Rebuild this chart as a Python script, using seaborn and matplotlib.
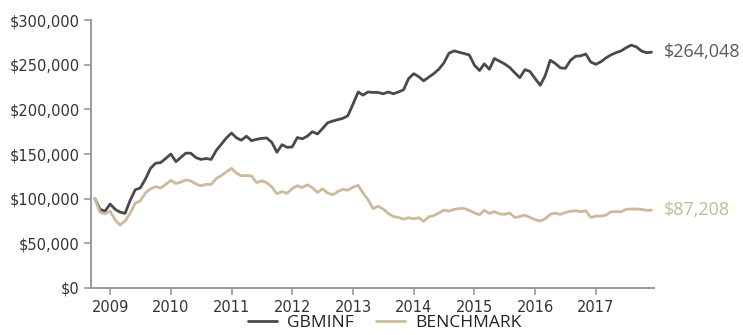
import matplotlib
matplotlib.use("Agg")
import matplotlib.pyplot as plt
import matplotlib.dates as mdates
import matplotlib.ticker as mticker
import numpy as np
import pandas as pd
import seaborn as sns

# Growth of an initial $100,000, monthly, Oct 2008 - Dec 2017
months = pd.date_range("2008-10-01", "2017-12-01", freq="MS")

gbminf = [
    100, 88, 86, 94, 88, 85, 83.6, 98, 110, 112,
    122, 134, 139.6, 140.5, 145, 150, 141.5, 146, 151, 151,
    146, 144, 145, 144, 154, 161, 168, 173.5, 168, 165.5,
    170, 165, 166.5, 167.5, 168, 163, 152, 160.5, 157.5, 158,
    168.5, 167, 170, 175, 172.5, 178.5, 185, 187, 188.5, 190,
    193, 206, 219.5, 216, 219.5, 219, 219, 217.5, 219.5, 217.5,
    219.5, 222, 234.5, 240, 236.5, 232, 236, 240, 245, 252,
    263, 265.5, 264, 262.5, 261, 249.5, 243.5, 251, 245, 257,
    254, 251, 247, 241, 235.5, 244.5, 242.5, 234.5, 227, 237.5,
    255, 251.5, 246.5, 246, 255, 259.5, 260, 262, 253, 250.5,
    253.5, 257.5, 261, 263.5, 265.5, 269, 272, 270, 265.5, 263.5,
    264.048,
]

benchmark = [
    100, 85, 83, 86, 76, 70.5, 75, 83.5, 95, 97.5,
    106.5, 111, 113.5, 112, 116, 120.5, 117, 118.5, 121, 120,
    116.5, 114.5, 116, 116, 122.5, 126, 130, 134, 128.5, 125.5,
    126, 125.5, 118, 120, 118, 113, 105.5, 108, 106, 111.5,
    114.5, 112.5, 115.5, 112.5, 107, 111, 106.5, 104.5, 108, 110.5,
    109.5, 113, 115, 106.5, 99, 89, 91.5, 88.5, 83.5, 80,
    79, 77, 78.7, 77.6, 78.7, 74.5, 79.8, 81, 84, 87.3,
    86.2, 88, 89, 89, 87, 84, 82, 87, 83.5, 85.5,
    83, 82.5, 84, 79, 80, 81.5, 79, 76.5, 75, 77.5,
    82.5, 84, 82.5, 84.5, 86, 86.5, 85.5, 86.5, 79, 80.5,
    80.6, 81.5, 85.4, 85.4, 85.4, 88, 88.4, 88.4, 88, 87,
    87.208,
]

series_names = ["GBMINF", "BENCHMARK"]
series_colors = ["#4a4a4a", "#cbbb9c"]
label_colors = ["#5a5a5a", "#c8b89a"]

df = pd.DataFrame({
    "date": list(months) * 2,
    "value": np.array(gbminf + benchmark) * 1000,
    "series": ["GBMINF"] * len(gbminf) + ["BENCHMARK"] * len(benchmark),
})

sns.set_theme(style="white")
plt.rcParams["font.family"] = ["DejaVu Sans"]

fig = plt.figure(figsize=(7.43, 3.35), dpi=100)
ax = fig.add_axes([0.1225, 0.1403, 0.7577, 0.7997])

sns.lineplot(data=df, x="date", y="value", hue="series",
             hue_order=series_names, palette=series_colors,
             linewidth=2.0, ax=ax, legend=False)

ax.set_ylim(0, 300000)
ax.set_xlim(pd.Timestamp("2008-09-08"), pd.Timestamp("2017-12-16"))
ax.yaxis.set_major_locator(mticker.MultipleLocator(50000))
ax.yaxis.set_major_formatter(mticker.FuncFormatter(lambda v, p: f"${v:,.0f}"))
ax.xaxis.set_major_locator(mdates.YearLocator())
ax.xaxis.set_major_formatter(mdates.DateFormatter("%Y"))
ax.set_xlabel("")
ax.set_ylabel("")

for side in ["top", "right"]:
    ax.spines[side].set_visible(False)
for side in ["left", "bottom"]:
    ax.spines[side].set_color("#9a9a9a")
    ax.spines[side].set_linewidth(1.4)

ax.tick_params(axis="both", which="major", direction="out", length=5,
               width=1.2, color="#9a9a9a", labelsize=10.5, labelcolor="#333333",
               left=True, bottom=True)
ax.tick_params(axis="y", pad=3)
ax.tick_params(axis="x", pad=4)

# Final values printed beside the line ends
finals = [gbminf[-1] * 1000, benchmark[-1] * 1000]
for val, col in zip(finals, label_colors):
    ax.annotate(f"${val:,.0f}", xy=(months[-1], val), xytext=(9, 0),
                textcoords="offset points", va="center", ha="left",
                fontsize=13, color=col, family="Open Sans",
                annotation_clip=False)

handles = [plt.Line2D([], [], color=c, linewidth=2.0) for c in series_colors]
fig.legend(handles, series_names, loc="center", bbox_to_anchor=(0.518, 0.036),
           ncol=2, frameon=False, handlelength=1.65, handletextpad=0.6,
           columnspacing=1.3,
           prop={"family": "Open Sans", "size": 12.5}, labelcolor="#222222")

fig.savefig("out.png", dpi=100, facecolor="white")
